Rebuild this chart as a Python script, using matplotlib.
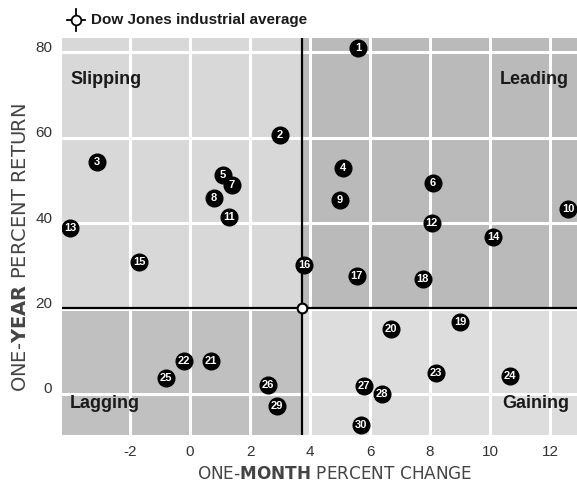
import matplotlib
matplotlib.use("Agg")
import matplotlib.pyplot as plt
from matplotlib.lines import Line2D
from matplotlib.transforms import ScaledTranslation

plt.rcParams["axes.unicode_minus"] = False
plt.rcParams["mathtext.fontset"] = "dejavusans"

# one-month % change (x), one-year % return (y), point labels 1..30
labels = list(range(1, 31))
month_chg = [5.6, 3.0, -3.1, 5.1, 1.1, 8.1, 1.4, 0.8, 5.0, 12.6,
             1.3, 8.05, -4.0, 10.1, -1.7, 3.8, 5.55, 7.75, 9.0, 6.7,
             0.7, -0.2, 8.2, 10.65, -0.8, 2.6, 5.8, 6.4, 2.9, 5.7]
year_ret = [80.9, 60.6, 54.3, 52.8, 51.2, 49.4, 48.9, 45.8, 45.4, 43.4,
            41.5, 39.9, 38.8, 36.8, 30.8, 30.2, 27.6, 26.8, 16.9, 15.1,
            7.8, 7.6, 4.8, 4.1, 3.7, 2.1, 1.9, 0.0, -2.8, -7.3]

dow_x, dow_y = 3.73, 20.2
xticks = [-2, 0, 2, 4, 6, 8, 10, 12]
yticks = [0, 20, 40, 60, 80]
quadrants = ["Slipping", "Leading", "Lagging", "Gaining"]

sans = ["Liberation Sans", "DejaVu Sans"]

fig = plt.figure(figsize=(5.77, 4.91), dpi=100)
ax = fig.add_axes([62 / 577, 56 / 491, 1 - 62 / 577, (435 - 38) / 491])
xmin, xmax = -4.27, 12.9
ymin, ymax = -9.6, 83.3
ax.set_xlim(xmin, xmax)
ax.set_ylim(ymin, ymax)

# quadrant shading
ax.fill_between([xmin, dow_x], dow_y, ymax, color="#d8d8d8", lw=0, zorder=0)
ax.fill_between([dow_x, xmax], dow_y, ymax, color="#bababa", lw=0, zorder=0)
ax.fill_between([xmin, dow_x], ymin, dow_y, color="#c0c0c0", lw=0, zorder=0)
ax.fill_between([dow_x, xmax], ymin, dow_y, color="#dddddd", lw=0, zorder=0)

ax.set_xticks(xticks)
ax.set_yticks(yticks)
ax.grid(True, color="white", lw=2.2, zorder=1)
ax.set_axisbelow(True)
for s in ax.spines.values():
    s.set_visible(False)
ax.tick_params(length=0, labelsize=11, labelcolor="#333333", pad=7)
for lbl in ax.get_xticklabels() + ax.get_yticklabels():
    lbl.set_fontfamily(sans)
off = ScaledTranslation(0, 6 / 100, fig.dpi_scale_trans)
for lbl in ax.get_yticklabels():
    lbl.set_transform(lbl.get_transform() + off)

# Dow Jones crosshair
ax.axvline(dow_x, color="black", lw=1.6, zorder=2)
ax.axhline(dow_y, color="black", lw=1.6, zorder=2)
ax.plot(dow_x, dow_y, "o", ms=7, mfc="white", mec="black", mew=1.5, zorder=3)

# numbered points
for i, (n, x, y) in enumerate(zip(labels, month_chg, year_ret)):
    ax.plot(x, y, "o", ms=12, color="black", zorder=10 + 2 * i)
    ax.text(x, y, str(n), color="white", fontsize=8, fontweight="bold",
            family=sans, ha="center", va="center", zorder=11 + 2 * i)

# quadrant names
qkw = dict(fontsize=13, fontweight="bold", family=sans, color="#1a1a1a",
           transform=ax.transAxes, zorder=80)
ax.text(8 / 515, 1 - 42 / 397, quadrants[0], ha="left", va="center", **qkw)
ax.text(1 - 8 / 515, 1 - 42 / 397, quadrants[1], ha="right", va="center", **qkw)
ax.text(8 / 515, 1 - 365 / 397, quadrants[2], ha="left", va="center", **qkw)
ax.text(1 - 8 / 515, 1 - 365 / 397, quadrants[3], ha="right", va="center", **qkw)

# axis titles with a bold word
fig.text(197 / 577, 1 - 474 / 491, r"ONE-$\mathbf{MONTH}$ PERCENT CHANGE",
         fontsize=12.2, color="#444444", family="DejaVu Sans",
         ha="left", va="center")
fig.text(21 / 577, 1 - 392 / 491, r"ONE-$\mathbf{YEAR}$ PERCENT RETURN",
         fontsize=14, color="#444444", family="DejaVu Sans", rotation=90,
         ha="center", va="bottom")

# legend for the Dow marker
cx, cy = 76 / 577, 1 - 20 / 491
fig.add_artist(Line2D([cx - 9 / 577, cx + 9 / 577], [cy, cy], color="black",
                      lw=1.3, transform=fig.transFigure))
fig.add_artist(Line2D([cx, cx], [cy - 11 / 491, cy + 11 / 491], color="black",
                      lw=1.3, transform=fig.transFigure))
fig.add_artist(Line2D([cx], [cy], marker="o", ms=7, mfc="white", mec="black",
                      mew=1.3, transform=fig.transFigure))
fig.text(91 / 577, cy, "Dow Jones industrial average", fontsize=11,
         fontweight="bold", family=sans, color="#1a1a1a", va="center")

fig.savefig("out.png", dpi=100)
